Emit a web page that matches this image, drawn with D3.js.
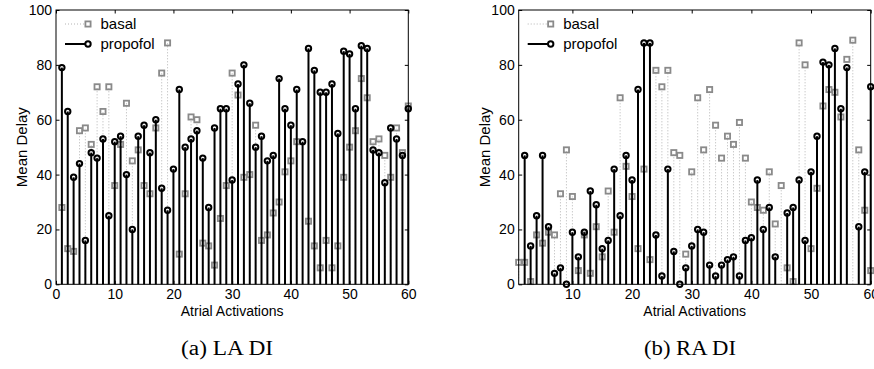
<!DOCTYPE html>
<html>
<head>
<meta charset="utf-8">
<script src="https://cdn.jsdelivr.net/npm/d3@7"></script>
<style>
  html, body { margin: 0; padding: 0; background: #fff; }
  svg { display: block; }
  text { font-family: "Liberation Sans", Arial, Helvetica, sans-serif; fill: #000; }
</style>
</head>
<body>
<svg id="chart" width="874" height="369"></svg>
<script>
// ---------- data ----------
const activations = d3.range(1, 61);

const laBasal = [28,13,12,56,57,51,72,63,72,36,51,66,45,49,36,33,57,77,88,null,
                 11,33,61,60,15,14,7,24,36,77,69,39,40,58,16,18,26,30,41,45,
                 52,null,23,14,6,16,6,14,39,50,56,75,68,52,53,47,39,57,48,65];
const laPropofol = [79,63,39,44,16,48,46,53,25,52,54,40,20,54,58,48,60,35,27,42,
                    71,50,53,56,46,28,57,64,64,38,73,80,66,50,54,45,47,75,64,58,
                    71,52,86,78,70,70,73,55,85,84,64,87,86,49,48,37,57,53,47,64];

const raBasal = [8,8,1,18,15,19,18,33,49,32,5,18,4,21,10,34,19,68,43,32,
                 13,42,9,78,72,78,48,47,11,41,68,49,71,58,46,54,51,59,46,30,
                 28,27,41,22,36,6,1,88,80,13,35,65,71,70,61,82,89,49,27,5];
const raPropofol = [null,47,14,25,47,21,4,6,0,19,10,19,34,29,13,16,42,25,47,38,
                    71,88,88,18,3,42,12,0,6,14,20,19,7,3,7,9,10,3,16,17,
                    38,20,28,10,null,26,28,38,16,41,54,81,80,86,64,79,null,21,41,72];

const seriesNames = ["basal", "propofol"];
const yTicks = [0, 20, 40, 60, 80, 100];
const xTicksLA = [0, 10, 20, 30, 40, 50, 60];
const xTicksRA = [10, 20, 30, 40, 50, 60];
const captions = ["(a) LA DI", "(b) RA DI"];
const xLabel = "Atrial Activations";
const yLabel = "Mean Delay";

// ---------- drawing ----------
const svg = d3.select("#chart");
const y = d3.scaleLinear().domain([0, 100]).range([284.3, 10]);

const panels = [
  { x: d3.scaleLinear().domain([0, 60]).range([56, 408.3]), xt: xTicksLA,
    basal: laBasal, prop: laPropofol, cap: captions[0], capX: 227 },
  { x: d3.scaleLinear().domain([1, 60]).range([518.7, 870.7]), xt: xTicksRA,
    basal: raBasal, prop: raPropofol, cap: captions[1], capX: 690 }
];

const TICK = 3.5;
const FS = 14;

panels.forEach(p => {
  const g = svg.append("g");
  const [x0, x1] = p.x.range();
  const [y0, y1] = y.range();

  const bData = activations.map((a, i) => ({ a, v: p.basal[i] })).filter(d => d.v != null);
  const pData = activations.map((a, i) => ({ a, v: p.prop[i] })).filter(d => d.v != null);

  // basal stems (gray dotted) with square markers
  g.append("g").selectAll("line").data(bData).join("line")
    .attr("x1", d => p.x(d.a)).attr("x2", d => p.x(d.a))
    .attr("y1", y(0)).attr("y2", d => y(d.v))
    .attr("stroke", "#b4b4b4").attr("stroke-width", 1)
    .attr("stroke-dasharray", "1,2");
  g.append("g").selectAll("rect").data(bData).join("rect")
    .attr("x", d => p.x(d.a) - 2.6).attr("y", d => y(d.v) - 2.6)
    .attr("width", 5.2).attr("height", 5.2)
    .attr("fill", "none").attr("stroke", "#8a8a8a").attr("stroke-width", 1.8);

  // propofol stems (black solid) with circle markers
  g.append("g").selectAll("line").data(pData).join("line")
    .attr("x1", d => p.x(d.a)).attr("x2", d => p.x(d.a))
    .attr("y1", y(0)).attr("y2", d => y(d.v))
    .attr("stroke", "#000").attr("stroke-width", 2);
  g.append("g").selectAll("circle").data(pData).join("circle")
    .attr("cx", d => p.x(d.a)).attr("cy", d => y(d.v))
    .attr("r", 2.7)
    .attr("fill", "none").attr("stroke", "#000").attr("stroke-width", 2);

  // axes
  const ax = (gen, tx, ty) => {
    const a = g.append("g").attr("transform", `translate(${tx},${ty})`).call(gen);
    a.select(".domain").remove();
    a.selectAll("line").attr("stroke", "#000").attr("stroke-width", 1);
    a.selectAll("text").style("font-size", FS + "px")
      .style("font-family", '"Liberation Sans", Arial, sans-serif');
    return a;
  };
  ax(d3.axisBottom(p.x).tickValues(p.xt).tickFormat(d3.format("d"))
      .tickSizeInner(-TICK).tickSizeOuter(0).tickPadding(5), 0, y0);
  ax(d3.axisTop(p.x).tickValues(p.xt).tickFormat("")
      .tickSizeInner(-TICK).tickSizeOuter(0), 0, y1);
  ax(d3.axisLeft(y).tickValues(yTicks).tickFormat(d3.format("d"))
      .tickSizeInner(-TICK).tickSizeOuter(0).tickPadding(4), x0, 0);
  ax(d3.axisRight(y).tickValues(yTicks).tickFormat("")
      .tickSizeInner(-TICK).tickSizeOuter(0), x1, 0);

  // box
  g.append("rect").attr("x", x0).attr("y", y1)
    .attr("width", x1 - x0).attr("height", y0 - y1)
    .attr("fill", "none").attr("stroke", "#000").attr("stroke-width", 1);

  // legend
  const lg = g.append("g");
  const rows = [24, 44];
  lg.append("line").attr("x1", x0 + 9).attr("x2", x0 + 29)
    .attr("y1", rows[0]).attr("y2", rows[0])
    .attr("stroke", "#b4b4b4").attr("stroke-dasharray", "1,2");
  lg.append("rect").attr("x", x0 + 32 - 2.6).attr("y", rows[0] - 2.6)
    .attr("width", 5.2).attr("height", 5.2)
    .attr("fill", "none").attr("stroke", "#8a8a8a").attr("stroke-width", 1.8);
  lg.append("line").attr("x1", x0 + 9).attr("x2", x0 + 32)
    .attr("y1", rows[1]).attr("y2", rows[1])
    .attr("stroke", "#000").attr("stroke-width", 2);
  lg.append("circle").attr("cx", x0 + 32).attr("cy", rows[1]).attr("r", 2.7)
    .attr("fill", "#fff").attr("stroke", "#000").attr("stroke-width", 2);
  seriesNames.forEach((n, i) => {
    lg.append("text").attr("x", x0 + 44.5).attr("y", rows[i] + 5)
      .style("font-size", "15px").text(n);
  });

  // axis labels
  g.append("text").attr("x", (x0 + x1) / 2).attr("y", 316)
    .attr("text-anchor", "middle").style("font-size", "14px").text(xLabel);
  g.append("text")
    .attr("transform", `translate(${x0 - 29},${(y0 + y1) / 2}) rotate(-90)`)
    .attr("text-anchor", "middle").style("font-size", "15px").text(yLabel);

  // caption
  g.append("text").attr("x", p.capX).attr("y", 355)
    .attr("text-anchor", "middle")
    .style("font-family", '"Liberation Serif", "Times New Roman", serif')
    .style("font-size", "20px")
    .attr("textLength", 92).attr("lengthAdjust", "spacingAndGlyphs")
    .text(p.cap);
});
</script>
</body>
</html>
